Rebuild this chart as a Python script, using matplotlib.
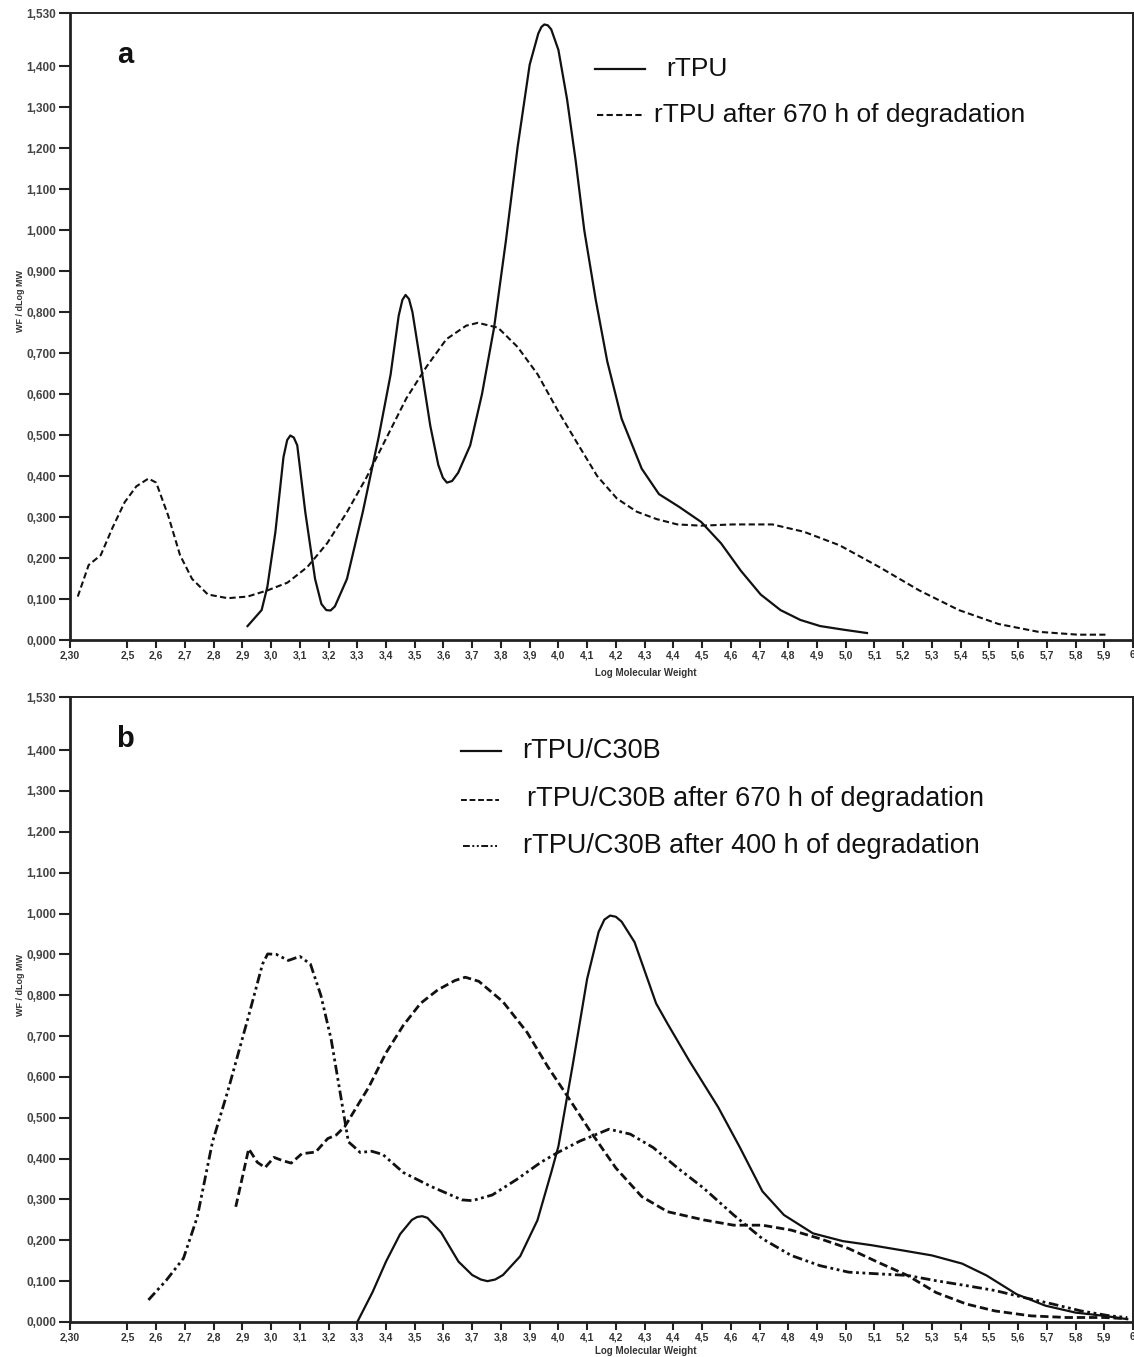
import matplotlib
matplotlib.use("Agg")
import matplotlib.pyplot as plt

plt.rcParams['font.family'] = ['Liberation Sans', 'DejaVu Sans']

# GPC curves, panel a
a_rtpu_x = [2.918, 2.967, 2.987, 3.015, 3.043, 3.056, 3.067, 3.079, 3.091, 3.119,
            3.153, 3.175, 3.192, 3.207, 3.222, 3.264, 3.319, 3.374, 3.416, 3.444,
            3.457, 3.468, 3.48, 3.492, 3.52, 3.554, 3.582, 3.598, 3.612, 3.63,
            3.651, 3.693, 3.734, 3.776, 3.817, 3.858, 3.90, 3.93, 3.941, 3.951,
            3.963, 3.975, 4.00, 4.03, 4.06, 4.09, 4.13, 4.17, 4.22, 4.29,
            4.35, 4.42, 4.497, 4.566, 4.635, 4.704, 4.773, 4.842, 4.911, 4.994, 5.074]
a_rtpu_y = [0.034, 0.073, 0.13, 0.264, 0.446, 0.488, 0.499, 0.494, 0.475, 0.312,
            0.149, 0.088, 0.073, 0.072, 0.082, 0.149, 0.312, 0.494, 0.648, 0.791,
            0.830, 0.842, 0.832, 0.80, 0.676, 0.523, 0.427, 0.396, 0.384, 0.388,
            0.408, 0.475, 0.60, 0.762, 0.973, 1.203, 1.404, 1.48, 1.496, 1.502,
            1.500, 1.49, 1.44, 1.32, 1.17, 1.00, 0.83, 0.68, 0.54, 0.418,
            0.356, 0.325, 0.288, 0.236, 0.169, 0.111, 0.073, 0.049, 0.034, 0.025, 0.017]

a_deg_x = [2.327, 2.365, 2.407, 2.448, 2.49, 2.531, 2.573, 2.60, 2.642, 2.683,
           2.725, 2.78, 2.849, 2.918, 2.987, 3.057, 3.126, 3.195, 3.264, 3.333,
           3.402, 3.471, 3.541, 3.61, 3.679, 3.72, 3.79, 3.858, 3.928, 3.997,
           4.066, 4.135, 4.204, 4.273, 4.342, 4.414, 4.497, 4.607, 4.745, 4.855,
           4.979, 5.117, 5.256, 5.394, 5.532, 5.67, 5.808, 5.904]
a_deg_y = [0.106, 0.183, 0.207, 0.274, 0.336, 0.375, 0.394, 0.384, 0.303, 0.207,
           0.149, 0.111, 0.102, 0.106, 0.121, 0.14, 0.178, 0.236, 0.312, 0.398,
           0.494, 0.59, 0.667, 0.734, 0.767, 0.774, 0.762, 0.715, 0.648, 0.561,
           0.48, 0.40, 0.345, 0.313, 0.295, 0.282, 0.279, 0.282, 0.282, 0.264,
           0.231, 0.178, 0.121, 0.073, 0.039, 0.02, 0.013, 0.013]

# GPC curves, panel b
b_c30b_x = [3.30, 3.353, 3.40, 3.449, 3.49, 3.508, 3.526, 3.544, 3.592, 3.652,
            3.70, 3.73, 3.753, 3.78, 3.807, 3.867, 3.927, 3.975, 4.00, 4.05,
            4.10, 4.14, 4.16, 4.18, 4.20, 4.22, 4.265, 4.34, 4.38, 4.455,
            4.556, 4.632, 4.71, 4.785, 4.886, 4.99, 5.09, 5.2, 5.3, 5.405,
            5.49, 5.595, 5.695, 5.8, 5.9, 5.98]
b_c30b_y = [0.0, 0.073, 0.148, 0.215, 0.25, 0.257, 0.259, 0.255, 0.219, 0.148,
            0.115, 0.104, 0.10, 0.104, 0.115, 0.161, 0.249, 0.366, 0.43, 0.63,
            0.84, 0.955, 0.985, 0.995, 0.992, 0.98, 0.93, 0.78, 0.73, 0.64,
            0.526, 0.427, 0.32, 0.262, 0.217, 0.198, 0.188, 0.175, 0.163, 0.143,
            0.114, 0.068, 0.04, 0.023, 0.015, 0.007]

b_670_x = [2.877, 2.922, 2.952, 2.979, 3.01, 3.04, 3.07, 3.107, 3.155, 3.197,
           3.227, 3.257, 3.30, 3.34, 3.40, 3.46, 3.52, 3.58, 3.64, 3.676,
           3.723, 3.807, 3.891, 3.963, 4.034, 4.11, 4.2, 4.29, 4.38, 4.505,
           4.61, 4.71, 4.81, 4.91, 5.01, 5.11, 5.215, 5.315, 5.42, 5.52,
           5.645, 5.77, 5.9, 5.98]
b_670_y = [0.282, 0.424, 0.391, 0.378, 0.403, 0.395, 0.389, 0.412, 0.416, 0.449,
           0.458, 0.479, 0.529, 0.575, 0.659, 0.726, 0.78, 0.813, 0.836, 0.844,
           0.834, 0.784, 0.709, 0.625, 0.55, 0.468, 0.377, 0.307, 0.27, 0.25,
           0.237, 0.237, 0.225, 0.204, 0.18, 0.147, 0.114, 0.072, 0.044, 0.027,
           0.015, 0.011, 0.011, 0.008]

b_400_x = [2.573, 2.635, 2.695, 2.743, 2.796, 2.85, 2.922, 2.97, 2.988, 3.018,
           3.06, 3.10, 3.137, 3.173, 3.209, 3.239, 3.269, 3.287, 3.31, 3.35,
           3.389, 3.46, 3.556, 3.664, 3.70, 3.77, 3.855, 3.939, 3.998, 4.075,
           4.176, 4.25, 4.33, 4.415, 4.505, 4.61, 4.71, 4.81, 4.91, 5.01,
           5.11, 5.215, 5.315, 5.42, 5.52, 5.62, 5.72, 5.82, 5.92, 5.98]
b_400_y = [0.054, 0.102, 0.156, 0.257, 0.441, 0.567, 0.75, 0.876, 0.901, 0.90,
           0.885, 0.895, 0.876, 0.80, 0.692, 0.567, 0.441, 0.43, 0.415, 0.418,
           0.41, 0.366, 0.332, 0.299, 0.297, 0.311, 0.349, 0.391, 0.415, 0.443,
           0.472, 0.46, 0.427, 0.377, 0.328, 0.262, 0.204, 0.163, 0.138, 0.122,
           0.118, 0.114, 0.101, 0.089, 0.077, 0.06, 0.044, 0.027, 0.015, 0.011]

x_ticks = [2.3] + [round(2.5 + 0.1 * i, 1) for i in range(15)] + \
          [round(4.0 + 0.1 * i, 1) for i in range(20)] + [6.0]
x_labels = ['2,30'] + [f"{v:.1f}".replace('.', ',') for v in x_ticks[1:-1]] + ['6']
y_ticks = [round(0.1 * i, 1) for i in range(15)] + [1.53]
y_labels = [f"{v:.3f}".replace('.', ',') for v in y_ticks]

ink = '#111111'
styles = {
    'solid': dict(color=ink, lw=1.6, ls='-'),
    'dash_a': dict(color=ink, lw=1.5, ls=(0, (3.0, 1.6))),
    'dash_b': dict(color=ink, lw=2.0, ls=(0, (3.0, 1.4))),
    'dashdotdot': dict(color=ink, lw=2.0, ls=(0, (3.5, 1.3, 1.0, 1.3, 1.0, 1.3))),
}

fig = plt.figure(figsize=(11.34, 13.57), dpi=100)
ax_a = fig.add_axes([70 / 1134, 1 - 640 / 1357, 1063 / 1134, 627 / 1357])
ax_b = fig.add_axes([70 / 1134, 1 - 1322 / 1357, 1063 / 1134, 625 / 1357])


def style_axes(ax, letter, xlabel_y):
    ax.set_xlim(2.3, 6.0)
    ax.set_ylim(0, 1.53)
    ax.set_xticks(x_ticks)
    ax.set_xticklabels(x_labels, fontsize=7.5, fontweight='bold', color='#333333')
    ax.set_yticks(y_ticks)
    ax.set_yticklabels(y_labels, fontsize=8.5, fontweight='bold', color='#444444')
    ax.tick_params(axis='y', direction='out', length=8, width=1.5, color='#222222', pad=2)
    ax.tick_params(axis='x', direction='out', length=6, width=1.5, color='#222222', pad=1.5)
    for side in ['left', 'bottom']:
        ax.spines[side].set_linewidth(2.0)
        ax.spines[side].set_color('#222222')
    for side in ['top', 'right']:
        ax.spines[side].set_linewidth(1.4)
        ax.spines[side].set_color('#222222')
    ax.set_xlabel('Log Molecular Weight', fontsize=7, fontweight='bold',
                  color='#333333', va='center')
    ax.xaxis.set_label_coords(0.542, xlabel_y)
    ax.set_ylabel('WF / dLog MW', fontsize=6.5, fontweight='bold', color='#333333')
    ax.yaxis.set_label_coords(-0.042, 0.54)
    ax.text(0.052, 0.933, letter, transform=ax.transAxes, fontsize=21,
            fontweight='bold', ha='center', va='center', color=ink)


def legend_row(ax, x0, x1, y, xt, label, style, size):
    ax.plot([x0, x1], [y, y], transform=ax.transAxes, clip_on=False, **style)
    ax.text(xt, y, label, transform=ax.transAxes, fontsize=size,
            ha='left', va='center', color=ink)


# panel a
ax_a.plot(a_rtpu_x, a_rtpu_y, solid_joinstyle='round', **styles['solid'])
ax_a.plot(a_deg_x, a_deg_y, dash_joinstyle='round', **styles['dash_a'])
style_axes(ax_a, 'a', -0.052)
legend_row(ax_a, 0.4935, 0.5412, 0.910, 0.561, 'rTPU', styles['solid'], 19)
legend_row(ax_a, 0.4954, 0.5412, 0.837, 0.5496, 'rTPU after 670 h of degradation',
           styles['dash_a'], 19)

# panel b
ax_b.plot(b_c30b_x, b_c30b_y, solid_joinstyle='round', **styles['solid'])
ax_b.plot(b_670_x, b_670_y, dash_joinstyle='round', **styles['dash_b'])
ax_b.plot(b_400_x, b_400_y, dash_joinstyle='round', **styles['dashdotdot'])
style_axes(ax_b, 'b', -0.046)
legend_row(ax_b, 0.368, 0.405, 0.914, 0.425, 'rTPU/C30B', styles['solid'], 19.5)
legend_row(ax_b, 0.368, 0.4036, 0.836, 0.430, 'rTPU/C30B after 670 h of degradation',
           styles['dash_b'] | dict(lw=1.4), 19.5)
legend_row(ax_b, 0.370, 0.4036, 0.761, 0.426, 'rTPU/C30B after 400 h of degradation',
           styles['dashdotdot'] | dict(lw=1.4), 19.5)

fig.savefig('out.png', dpi=100)
